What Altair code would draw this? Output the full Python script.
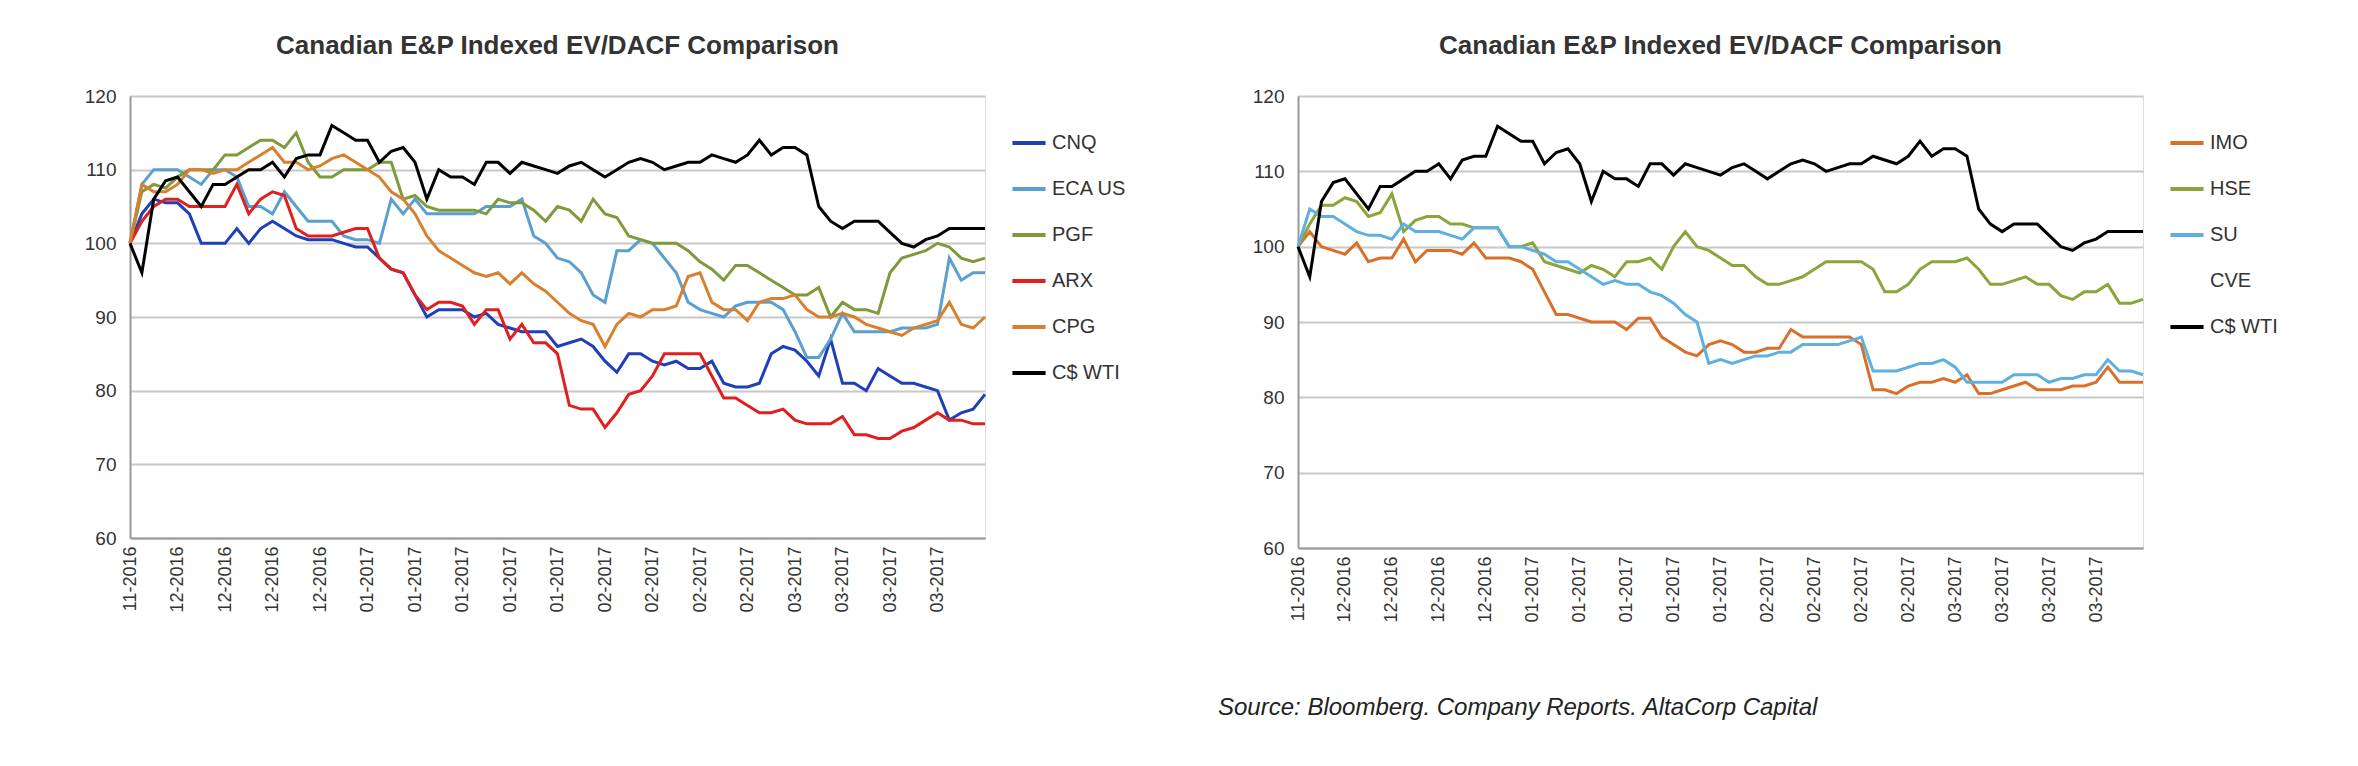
import altair as alt
import pandas as pd

labels = ["11-2016","12-2016","12-2016","12-2016","12-2016","01-2017","01-2017","01-2017","01-2017","01-2017",
          "02-2017","02-2017","02-2017","02-2017","03-2017","03-2017","03-2017","03-2017"]

wti = [100,96,106,108.5,109,107,105,108,108,109,110,110,111,109,111.5,112,112,116,115,114,114,111,112.5,113,111,106,110,109,109,108,111,111,109.5,111,110.5,110,109.5,110.5,111,110,109,110,111,111.5,111,110,110.5,111,111,112,111.5,111,112,114,112,113,113,112,105,103,102,103,103,103,101.5,100,99.5,100.5,101,102,102,102,102]
cnq = [100,104,106,105.5,105.5,104,100,100,100,102,100,102,103,102,101,100.5,100.5,100.5,100,99.5,99.5,98,96.5,96,93,90,91,91,91,90,90.5,89,88.5,88,88,88,86,86.5,87,86,84,82.5,85,85,84,83.5,84,83,83,84,81,80.5,80.5,81,85,86,85.5,84,82,87,81,81,80,83,82,81,81,80.5,80,76,77,77.5,79.5]
eca = [100,108,110,110,110,109,108,110,110,109,105,105,104,107,105,103,103,103,101,100.5,100.5,100,106,104,106,104,104,104,104,104,105,105,105,106,101,100,98,97.5,96,93,92,99,99,100.5,100,98,96,92,91,90.5,90,91.5,92,92,92,91,88,84.5,84.5,87,90.5,88,88,88,88,88.5,88.5,88.5,89,98,95,96,96]
pgf = [100,107,108,107.5,109,110,110,110,112,112,113,114,114,113,115,111,109,109,110,110,110,111,111,106,106.5,105,104.5,104.5,104.5,104.5,104,106,105.5,105.5,104.5,103,105,104.5,103,106,104,103.5,101,100.5,100,100,100,99,97.5,96.5,95,97,97,96,95,94,93,93,94,90,92,91,91,90.5,96,98,98.5,99,100,99.5,98,97.5,98]
arx = [100,103,105,106,106,105,105,105,105,108,104,106,107,106.5,102,101,101,101,101.5,102,102,98,96.5,96,93,91,92,92,91.5,89,91,91,87,89,86.5,86.5,85,78,77.5,77.5,75,77,79.5,80,82,85,85,85,85,82,79,79,78,77,77,77.5,76,75.5,75.5,75.5,76.5,74,74,73.5,73.5,74.5,75,76,77,76,76,75.5,75.5]
cpg = [100,108,107,107,108,110,110,109.5,110,110,111,112,113,111,111,110,110.5,111.5,112,111,110,109,107,106,104,101,99,98,97,96,95.5,96,94.5,96,94.5,93.5,92,90.5,89.5,89,86,89,90.5,90,91,91,91.5,95.5,96,92,91,91,89.5,92,92.5,92.5,93,91,90,90,90.5,90,89,88.5,88,87.5,88.5,89,89.5,92,89,88.5,90]

imo = [100,102,100,99.5,99,100.5,98,98.5,98.5,101,98,99.5,99.5,99.5,99,100.5,98.5,98.5,98.5,98,97,94,91,91,90.5,90,90,90,89,90.5,90.5,88,87,86,85.5,87,87.5,87,86,86,86.5,86.5,89,88,88,88,88,88,87,81,81,80.5,81.5,82,82,82.5,82,83,80.5,80.5,81,81.5,82,81,81,81,81.5,81.5,82,84,82,82,82]
hse = [100,103,105.5,105.5,106.5,106,104,104.5,107,102,103.5,104,104,103,103,102.5,102.5,102.5,100,100,100.5,98,97.5,97,96.5,97.5,97,96,98,98,98.5,97,100,102,100,99.5,98.5,97.5,97.5,96,95,95,95.5,96,97,98,98,98,98,97,94,94,95,97,98,98,98,98.5,97,95,95,95.5,96,95,95,93.5,93,94,94,95,92.5,92.5,93]
su = [100,105,104,104,103,102,101.5,101.5,101,103,102,102,102,101.5,101,102.5,102.5,102.5,100,100,99.5,99,98,98,97,96,95,95.5,95,95,94,93.5,92.5,91,90,84.5,85,84.5,85,85.5,85.5,86,86,87,87,87,87,87.5,88,83.5,83.5,83.5,84,84.5,84.5,85,84,82,82,82,82,83,83,83,82,82.5,82.5,83,83,85,83.5,83.5,83]

n = len(wti)
idx = list(range(n))

left_series = {"CNQ": cnq, "ECA US": eca, "PGF": pgf, "ARX": arx, "CPG": cpg, "C$ WTI": wti}
right_series = {"IMO": imo, "HSE": hse, "SU": su, "C$ WTI": wti}

def make_df(series):
    rows = []
    for k, vals in series.items():
        for i, v in zip(idx, vals):
            rows.append({"i": i, "v": v, "s": k})
    return pd.DataFrame(rows)

lab_js = "[" + ",".join("'%s'" % l for l in labels) + "]"
tick_vals = list(range(0, 4 * len(labels), 4))

def panel(df, domain, colors, w, h):
    return alt.Chart(df).mark_line(strokeWidth=3).encode(
        x=alt.X("i:Q", scale=alt.Scale(domain=[0, n - 1], nice=False),
                axis=alt.Axis(values=tick_vals, labelExpr=lab_js + "[datum.value/4]", labelAngle=-90,
                              grid=False, ticks=False, title=None, labelFontSize=18, labelColor="#333",
                              domainColor="#999", domainWidth=2, labelPadding=8, labelFont="Liberation Sans")),
        y=alt.Y("v:Q", scale=alt.Scale(domain=[60, 120], nice=False),
                axis=alt.Axis(values=[60, 70, 80, 90, 100, 110, 120], ticks=False, title=None,
                              labelFontSize=19, labelColor="#333", gridColor="#c8c8c8", gridWidth=2,
                              domainColor="#999", domainWidth=2, labelPadding=14, labelFont="Liberation Sans")),
        color=alt.Color("s:N", scale=alt.Scale(domain=domain, range=colors), sort=domain,
                        legend=alt.Legend(title=None, orient="none", legendX=w + 25, legendY=28,
                                          symbolType="stroke",
                                          symbolSize=1100, symbolStrokeWidth=4, labelFontSize=20,
                                          labelColor="#333", rowPadding=17, labelFont="Liberation Sans")),
        detail="s:N",
    ).properties(width=w, height=h,
                 title=alt.TitleParams("Canadian E&P Indexed EV/DACF Comparison", fontSize=26,
                                       font="Liberation Sans", fontWeight="bold", color="#333", offset=28))

left = panel(make_df(left_series), ["CNQ", "ECA US", "PGF", "ARX", "CPG", "C$ WTI"],
             ["#1f3fb8", "#5b9fd0", "#7f9a3a", "#e0201e", "#d9802e", "#000000"], 855, 442)

rdomain = ["IMO", "HSE", "SU", "CVE", "C$ WTI"]
right_lines = panel(make_df(right_series), rdomain,
                    ["#d9702a", "#8aa63a", "#5fb0e0", "#ffffff", "#000000"], 845, 452)
src = alt.Chart(pd.DataFrame({"t": ["Source: Bloomberg. Company Reports. AltaCorp Capital"]})).mark_text(
    align="left", baseline="middle", fontStyle="italic", fontSize=24, font="Liberation Sans", color="#222"
).encode(text="t:N", x=alt.value(-80), y=alt.value(612))
right = alt.layer(right_lines, src)

chart = alt.hconcat(left, right, spacing=89).resolve_scale(color="independent").properties(
    padding={"left": 75, "top": 24, "right": 5, "bottom": 5}
).configure_view(stroke=None).configure(background="white")
chart.save("out.html", embed_options={"renderer": "svg", "actions": False})
